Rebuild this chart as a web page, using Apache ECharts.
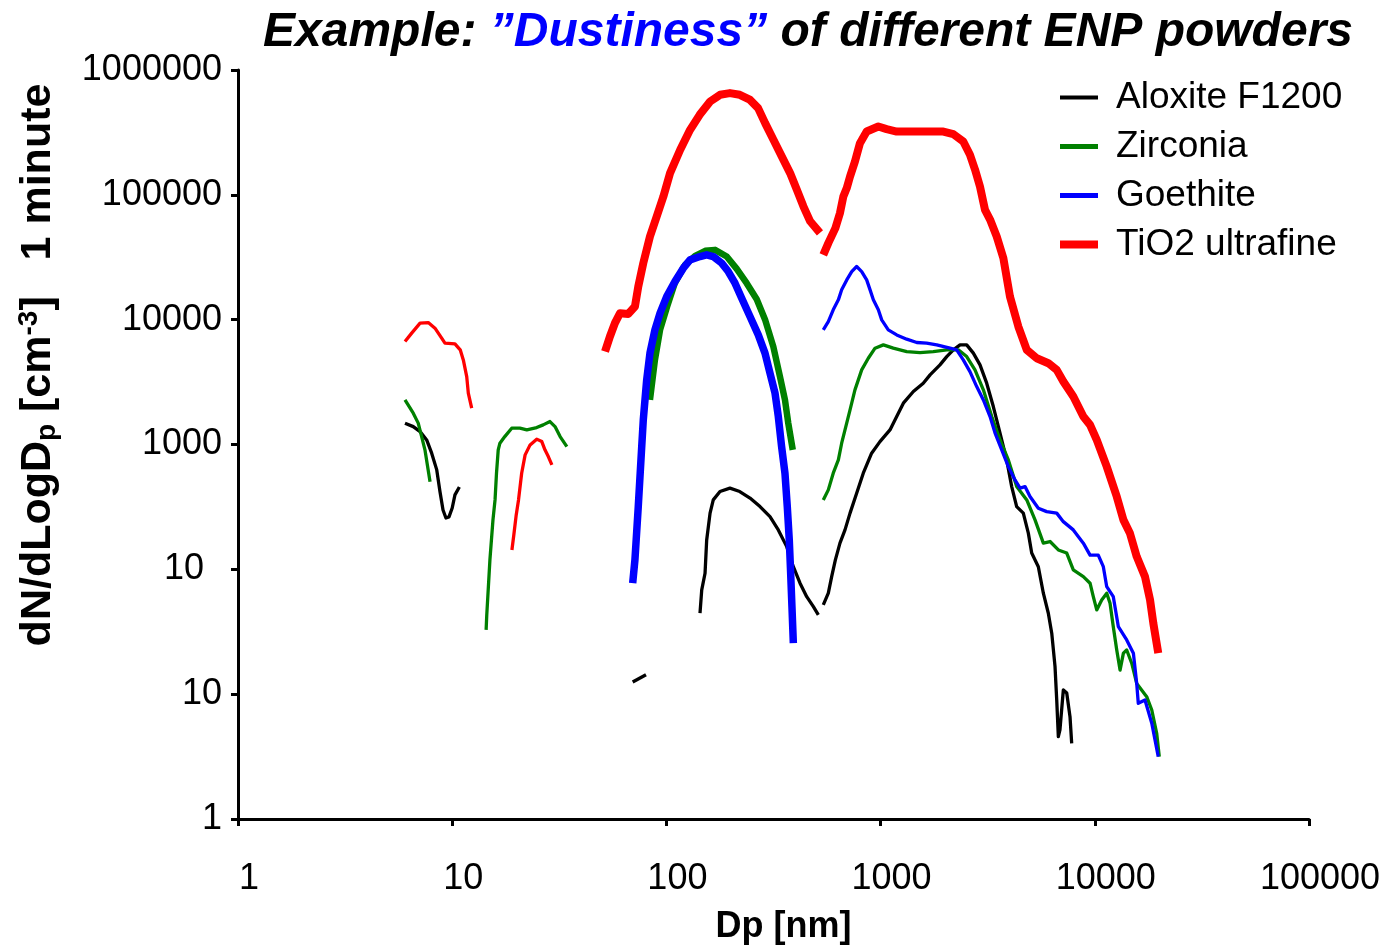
<!DOCTYPE html>
<html><head><meta charset="utf-8">
<script src="https://cdn.jsdelivr.net/npm/echarts@6/dist/echarts.min.js"></script>
<style>html,body{margin:0;padding:0;background:#fff}#c{width:1391px;height:950px}</style>
</head><body><div id="c"></div>
<script>
// ---- data (Dp [nm], dN/dLogDp [cm-3]) ----
const xTickLabels = ['1','10','100','1000','10000','100000'];
const yTickLabels = ['1','10','10','1000','10000','100000','1000000'];
const legendNames = ['Aloxite F1200','Zirconia','Goethite','TiO2 ultrafine'];

const aloxiteA = [[6.02,1482],[6.58,1391],[7.08,1268],[7.60,1088],[8.02,852],[8.47,626],[8.77,419],[9.06,299],[9.35,258],[9.66,263],[10.0,310],[10.3,395],[10.8,457]];
const aloxiteB = [[69.6,12.5],[80.3,14.3]];
const aloxiteC = [[143.5,44.5],[146.2,68.4],[151.5,93],[154.2,172],[159.9,282],[165.5,360],[177.9,420],[198,447],[220,420],[245.6,372],[273.5,318],[304.5,264],[333,207],[364.5,152],[391.4,105],[420.6,77.4],[451.9,60.4],[485.5,50.2],[512,43.1]];
const aloxiteD = [[540,51.9],[570,64.4],[591,87.4],[615,119],[646,162],[682,207],[720,282],[773,407],[830,589],[908,852],[993,1055],[1106,1309],[1189,1674],[1277,2143],[1422,2656],[1582,3099],[1702,3612],[1893,4343],[2036,5061],[2185,5728],[2349,6281],[2523,6281],[2710,5392],[2911,4343],[3128,3099],[3359,2013],[3610,1233],[3878,753],[4093,460],[4318,318],[4637,282],[4894,195],[5075,135],[5449,105],[5752,64.4],[6068,44.5],[6295,30.8],[6521,16.6],[6641,9.0],[6757,4.57],[6875,5.17],[7130,10.8],[7396,10.2],[7660,6.6],[7800,4.04]];

const zirconiaA = [[6.02,2277],[6.58,1783],[6.94,1483],[7.20,1157],[7.46,906],[7.88,504]];
const zirconiaB = [[14.4,32.7],[14.5,43.1],[15.0,119],[15.5,249],[15.85,360],[16.1,589],[16.4,906],[16.7,1024],[17.6,1157],[18.96,1351],[20.7,1351],[22.3,1309],[24.8,1366],[26.6,1436],[28.6,1527],[30.2,1391],[31.9,1157],[34.3,962]];
const zirconiaC = [[83.8,2277],[88.4,4765],[93.4,8283],[100.7,12670],[109.6,19720],[122.2,27480],[136.2,32460],[151.8,35580],[168.6,36240],[191.2,32050],[213,25530],[237,19590],[264,14550],[288.6,10050],[315.6,6087],[339,3500],[357.7,2277],[370.7,1482],[389,906]];
const zirconiaD = [[540,360],[570,433],[601,589],[635,753],[658,1024],[682,1309],[720,1893],[759,2740],[816,3960],[876,4911],[942,5912],[1030,6281],[1146,5912],[1324,5550],[1527,5450],[1762,5550],[2036,5728],[2306,5728],[2523,5061],[2758,3960],[3018,2740],[3303,1674],[3610,1088],[3948,753],[4318,460],[4813,360],[5259,249],[5752,162],[6180,167],[6757,143],[7396,135],[7937,98.9],[8840,87.4],[9503,77.4],[9840,60.4],[10210,47.3],[10770,56.9],[11370,64.4],[11780,53.5],[12200,34.7],[12660,22.6],[13120,15.6],[13600,21.3],[14090,22.6],[14870,17.7],[15690,12.2],[17470,9.55],[18450,7.47],[19450,4.86],[20000,3.16]];

const goethiteA = [[69.6,77.4],[71.3,119],[73.9,318],[76.7,962],[78.0,1575],[80.9,3296],[83.8,5392],[88.4,8283],[93.4,11270],[100.3,15310],[109.6,20190],[119.9,25860],[128.9,30140],[143.5,32050],[154.2,33050],[165.5,32050],[181.2,28370],[194.5,24290],[209.1,19590],[224.7,14850],[245.6,10590],[268.5,7553],[288.6,5392],[304.5,3728],[321.5,2577],[333,1674],[345,962],[357.7,589],[366.7,318],[374.7,172],[380.3,93],[385.6,50.2],[391.4,25.6]];
const goethiteB = [[540,8283],[570,9660],[601,11990],[635,14410],[658,17330],[695,20830],[733,24290],[773,26660],[816,24290],[861,20830],[893,17330],[925,14410],[976,11990],[1012,9960],[1086,8283],[1189,7551],[1324,6980],[1475,6561],[1640,6486],[1828,6281],[2109,5912],[2265,5728],[2432,4765],[2613,3838],[2810,2911],[3018,2277],[3243,1674],[3423,1233],[3677,906],[3948,665],[4240,520],[4477,447],[4724,460],[4982,383],[5449,309],[5961,290],[6641,282],[7130,241],[7937,207],[8840,162],[9503,130],[10380,130],[10960,105],[11370,72.6],[12200,60.4],[12880,34.7],[14090,27.2],[15140,21.3],[15690,12.2],[15960,8.45],[17150,8.99],[18450,5.85],[19780,3.16]];

const tio2A = [[6.02,6680],[6.47,7800],[7.08,9380],[7.73,9480],[8.31,8550],[8.93,7110],[9.25,6490],[10.3,6400],[10.9,5730],[11.27,4760],[11.69,3500],[11.89,2580],[12.33,1960]];
const tio2B = [[19.0,143],[19.4,189],[19.9,273],[20.4,360],[21.1,589],[21.9,826],[23.1,993],[24.8,1104],[26.2,1055],[27.1,906],[28.1,800],[29.2,687]];
const tio2C = [[51.7,5550],[54.5,7330],[57.5,9380],[60.7,11270],[66.4,11120],[71.3,12740],[73.9,18410],[78.0,28380],[83.8,46350],[90.1,67000],[96.8,96800],[104,149300],[116,229600],[129,331900],[143,437600],[160,559500],[178,632800],[198,653000],[220,632800],[245,579000],[268,495300],[289,375300],[316,276000],[352,190700],[378,149300],[406,110100],[436,80930],[469,61400],[521,49550]];
const tio2D = [[540,33050],[570,41020],[615,54120],[646,71320],[670,96860],[695,113200],[720,140200],[759,184900],[801,259500],[861,321400],[976,352500],[1067,335800],[1189,321400],[1371,321400],[1640,321400],[1963,321400],[2185,306400],[2432,267500],[2613,209300],[2758,159600],[2911,116500],[3072,75860],[3243,63400],[3484,46340],[3742,31100],[4018,15310],[4396,8810],[4813,5730],[5357,4911],[6068,4478],[6641,3960],[7130,3194],[7937,2421],[8840,1674],[9503,1436],[10210,1088],[11370,665],[12660,383],[13600,249],[14590,194.6],[15690,126.5],[17150,87.4],[18110,56.9],[18760,37],[19780,21.3]];

// ---- styling ----
const FONT = '"Liberation Sans", Arial, Helvetica, sans-serif';
const C = {alox:'#000000', zirc:'#008000', goe:'#0000ff', tio:'#ff0000'};
const THIN = 3.3, THICK = 7.5;

function seg(name, data, color, width) {
  return {
    name, type:'line', data, symbol:'none', showSymbol:false, silent:true,
    lineStyle:{color, width, join:'round', cap:'butt'}, itemStyle:{color},
    emphasis:{disabled:true}
  };
}

const series = [
  seg(legendNames[0], aloxiteA, C.alox, THIN),
  seg(legendNames[0], aloxiteB, C.alox, THIN),
  seg(legendNames[0], aloxiteC, C.alox, THIN),
  seg(legendNames[0], aloxiteD, C.alox, THIN),
  seg(legendNames[1], zirconiaA, C.zirc, THIN),
  seg(legendNames[1], zirconiaB, C.zirc, THIN),
  seg(legendNames[1], zirconiaD, C.zirc, THIN),
  seg(legendNames[2], goethiteB, C.goe, THIN),
  seg(legendNames[3], tio2A, C.tio, THIN),
  seg(legendNames[3], tio2B, C.tio, THIN),
  seg(legendNames[1], zirconiaC, C.zirc, 6.5),
  seg(legendNames[2], goethiteA, C.goe, THICK),
  seg(legendNames[3], tio2C, C.tio, 8),
  seg(legendNames[3], tio2D, C.tio, 8)
];

const lvl = v => Math.round(Math.log10(v));
const chart = echarts.init(document.getElementById('c'), null, {renderer:'canvas'});
chart.setOption({
  animation:false,
  backgroundColor:'#ffffff',
  textStyle:{fontFamily:FONT},
  title:{
    text:'{k|Example: }{b|\u201dDustiness\u201d}{k| of different ENP powders}',
    left:258, top:4,
    textStyle:{
      rich:{
        k:{fontSize:48, fontWeight:'bold', fontStyle:'italic', color:'#000', fontFamily:FONT},
        b:{fontSize:48, fontWeight:'bold', fontStyle:'italic', color:'#0000ff', fontFamily:FONT}
      }
    }
  },
  legend:{
    orient:'vertical', left:1056, top:79, padding:0, itemWidth:38, itemHeight:14, itemGap:12,
    itemStyle:{opacity:0, borderWidth:0},
    textStyle:{fontSize:37, color:'#000', fontFamily:FONT, padding:[0,0,0,13]},
    data:[
      {name:legendNames[0], lineStyle:{width:4, color:C.alox, opacity:1}},
      {name:legendNames[1], lineStyle:{width:5, color:C.zirc, opacity:1}},
      {name:legendNames[2], lineStyle:{width:5, color:C.goe, opacity:1}},
      {name:legendNames[3], lineStyle:{width:8, color:C.tio, opacity:1}}
    ],
    selectedMode:false
  },
  grid:{left:238, right:82, top:70, bottom:131, containLabel:false},
  xAxis:{
    type:'log', logBase:10, min:1, max:100000,
    name:'Dp [nm]', nameLocation:'middle', nameGap:90,
    nameTextStyle:{fontSize:36, fontWeight:'bold', color:'#000', fontFamily:FONT, padding:[0,0,0,20]},
    axisLine:{show:true, lineStyle:{color:'#000', width:3}},
    axisTick:{show:true, length:7, lineStyle:{color:'#000', width:3}},
    minorTick:{show:false}, splitLine:{show:false},
    axisLabel:{fontSize:36, color:'#000', fontFamily:FONT, margin:42, padding:[0,0,0,22],
      formatter:v => xTickLabels[lvl(v)]}
  },
  yAxis:{
    type:'log', logBase:10, min:1, max:1000000,
    axisLine:{show:true, lineStyle:{color:'#000', width:3}},
    axisTick:{show:true, length:7, lineStyle:{color:'#000', width:3}},
    minorTick:{show:false}, splitLine:{show:false},
    axisLabel:{fontSize:36, color:'#000', fontFamily:FONT, margin:16,
      formatter:v => { const i = lvl(v); return i === 2 ? '{p|' + yTickLabels[i] + '}' : yTickLabels[i]; },
      rich:{p:{fontSize:36, color:'#000', fontFamily:FONT, padding:[0,18,0,0]}}}
  },
  graphic:[{
    type:'text', x:38, y:365, rotation:Math.PI/2, silent:true,
    style:{
      text:'{m|dN/dLogD}{s|p}{m| [cm}{u|-3}{m|]   1 minute}',
      align:'center', verticalAlign:'middle',
      rich:{
        m:{fontSize:43, fontWeight:'bold', fontFamily:FONT, fill:'#000', lineHeight:50},
        s:{fontSize:28, fontWeight:'bold', fontFamily:FONT, fill:'#000', lineHeight:50, padding:[18,0,0,0]},
        u:{fontSize:28, fontWeight:'bold', fontFamily:FONT, fill:'#000', lineHeight:50, padding:[0,0,18,0]}
      }
    }
  }],
  series
});
</script></body></html>
